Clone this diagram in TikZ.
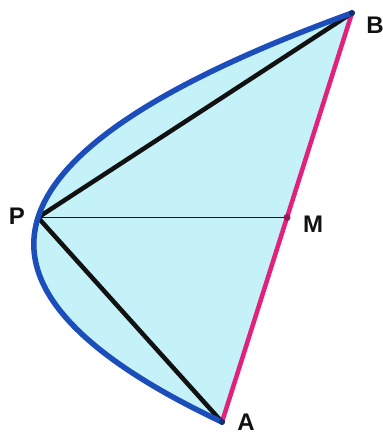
\documentclass[tikz,border=0pt]{standalone}
\usepackage{fontspec}
\setmainfont{Liberation Sans}
\definecolor{fillcyan}{HTML}{C4F2F8}
\definecolor{curveblue}{HTML}{1B4DBB}
\definecolor{chordmag}{HTML}{E2207E}
\definecolor{inkblack}{HTML}{111111}
\begin{document}
\begin{tikzpicture}[x=1pt,y=-1pt,
  lbl/.style={font=\fontsize{24}{24}\selectfont\bfseries, text=inkblack, inner sep=0pt},
  blackline/.style={draw=inkblack, line width=4.5pt, line cap=round},
  dotmark/.style={circle, inner sep=0pt, minimum size=6pt}]
\useasboundingbox (0,0) rectangle (383,437);
\fill[white] (0,0) rectangle (383,437);
\coordinate (A) at (222,422);
\coordinate (B) at (352,13);
\coordinate (P) at (38,217.5);
\coordinate (M) at (287,217.5);
\coordinate (C1) at (-66.6,285.7);
\coordinate (C2) at (-23.3,149.3);
% filled parabolic segment
\fill[fillcyan] (A) .. controls (C1) and (C2) .. (B) -- cycle;
% chord AB
\draw[chordmag, line width=4.5pt] (A) -- (B);
% PM
\draw[inkblack!80!blue, line width=1.8pt] (P) -- (M);
% triangle sides
\draw[blackline] (P) -- (B);
\draw[blackline] (P) -- (A);
% parabola
\draw[curveblue, line width=5.5pt, line cap=round] (A) .. controls (C1) and (C2) .. (B);
% dots
\node[dotmark, fill=curveblue!60!black] (dB) at (B) {};
\node[dotmark, fill=curveblue!60!black] (dA) at (A) {};
\node[dotmark, fill=chordmag!70!black, minimum size=7pt] (dM) at (M) {};
% labels
\node[lbl] (lB) at (375,25) {B};
\node[lbl] (lP) at (17,216) {P};
\node[lbl] (lM) at (313,224) {M};
\node[lbl] (lA) at (246,422) {A};
\end{tikzpicture}
\end{document}
